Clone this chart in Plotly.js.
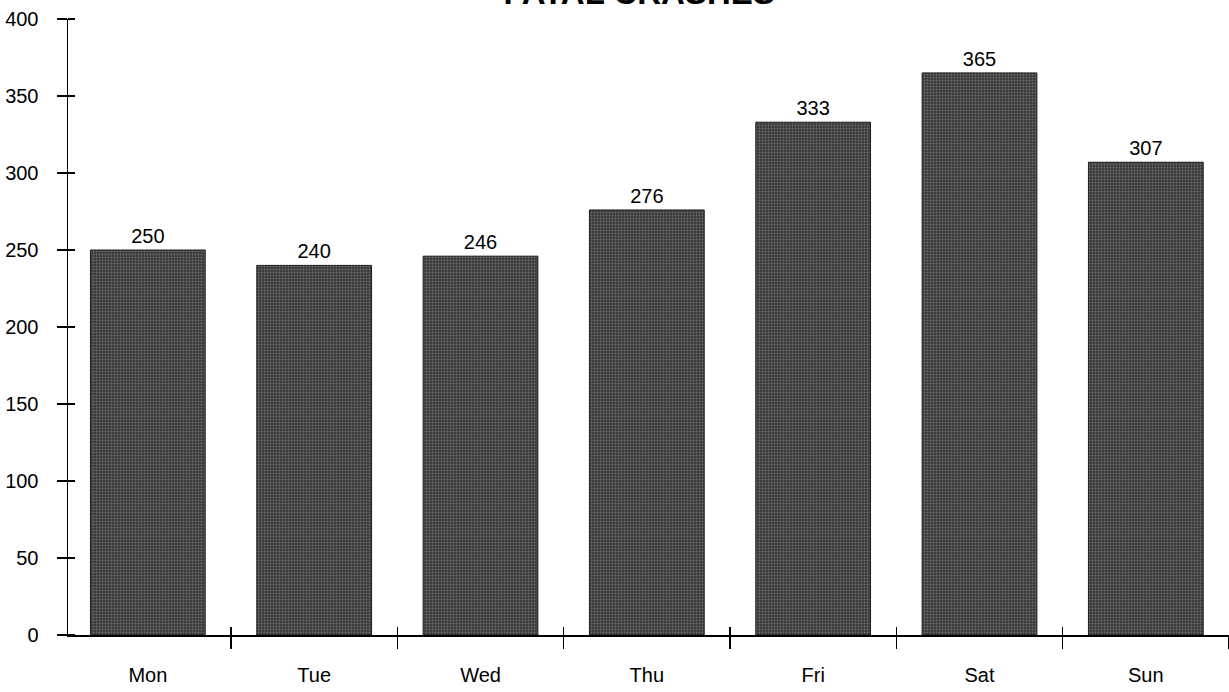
<!DOCTYPE html>
<html>
<head>
<meta charset="utf-8">
<script src="https://cdn.plot.ly/plotly-3.0.1.min.js"></script>
<style>html,body{margin:0;padding:0;background:#fff;}#chart{width:1229px;height:692px;}</style>
</head>
<body>
<div id="chart"></div>
<script>
const days = ["Mon", "Tue", "Wed", "Thu", "Fri", "Sat", "Sun"];
const crashes = [250, 240, 246, 276, 333, 365, 307];
const yTicks = [0, 50, 100, 150, 200, 250, 300, 350, 400];

const FONT = 'Liberation Sans, Arial, sans-serif';

const trace = {
  type: 'bar',
  x: days,
  y: crashes,
  width: 0.69,
  text: crashes.map(String),
  textposition: 'outside',
  cliponaxis: false,
  textfont: {family: FONT, size: 20, color: '#000'},
  marker: {
    color: '#3a3a3a',
    line: {color: '#1e1e1e', width: 1},
    pattern: {shape: '.', bgcolor: '#3a3a3a', fgcolor: '#6e6e6e', size: 3, solidity: 0.3, fillmode: 'replace'}
  },
  hoverinfo: 'skip'
};

const ghost = {type: 'scatter', x: days, y: crashes, xaxis: 'x2', mode: 'none', hoverinfo: 'skip', showlegend: false};

const layout = {
  width: 1229, height: 692,
  margin: {l: 68, r: 0, t: 19, b: 57},
  paper_bgcolor: '#fff', plot_bgcolor: '#fff',
  showlegend: false,
  font: {family: FONT, size: 20, color: '#000'},
  title: {
    text: '<b>FATAL CRASHES</b>',
    font: {family: FONT, size: 33, color: '#000'},
    x: 0.52, xanchor: 'center', xref: 'container',
    y: 0.994, yanchor: 'bottom', yref: 'container'
  },
  xaxis: {
    type: 'category',
    range: [-0.48, 6.5],
    showgrid: false, zeroline: false,
    showline: true, linecolor: '#000', linewidth: 1.5,
    ticks: 'outside', ticklen: 12, tickwidth: 1.2, tickcolor: '#000',
    tickson: 'boundaries',
    ticklabelstandoff: 21,
    tickfont: {family: FONT, size: 20, color: '#000'},
    fixedrange: true
  },
  xaxis2: {
    type: 'category', overlaying: 'x', anchor: 'y', side: 'bottom',
    range: [-0.48, 6.5],
    showgrid: false, zeroline: false, showline: false,
    ticks: 'inside', ticklen: 8, tickwidth: 1.2, tickcolor: '#000',
    tickson: 'boundaries', showticklabels: false
  },
  yaxis: {
    range: [0, 400],
    tickvals: yTicks,
    ticktext: yTicks.map(String),
    showgrid: false, zeroline: false,
    showline: true, linecolor: '#000', linewidth: 1.5,
    ticks: 'outside', ticklen: 10, tickwidth: 1.2, tickcolor: '#000',
    ticklabelstandoff: 14,
    tickfont: {family: FONT, size: 20, color: '#000'},
    minor: {tickvals: yTicks, ticks: 'inside', ticklen: 7, tickwidth: 1.2, tickcolor: '#000', showgrid: false},
    fixedrange: true
  }
};

Plotly.newPlot('chart', [trace, ghost], layout, {displayModeBar: false, staticPlot: true});
</script>
</body>
</html>
